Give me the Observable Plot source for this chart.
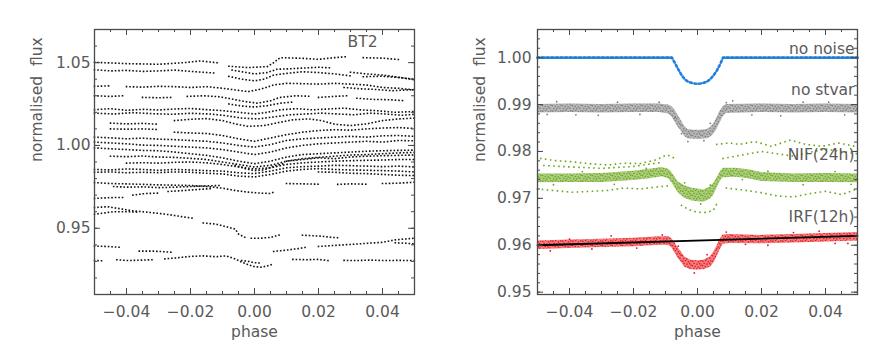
<!DOCTYPE html>
<html><head><meta charset="utf-8">
<script src="https://cdn.jsdelivr.net/npm/d3@7"></script>
<script src="https://cdn.jsdelivr.net/npm/@observablehq/plot@0.6"></script>
<style>
html,body{margin:0;padding:0;background:#fff;}
#wrap{display:flex;width:885px;height:354px;overflow:hidden;}
</style></head><body><div id="wrap"></div>
<script>
// ---------- tick values ----------
const xMajor = [-0.04, -0.02, 0, 0.02, 0.04];
const leftYMajor = [0.95, 1.00, 1.05];
const rightYMajor = [0.95, 0.96, 0.97, 0.98, 0.99, 1.00];

// ---------- left panel (BT2): dotted light-curve strands [phase, flux] (null = gap) ----------
const bt2Top = [
  [[-0.050,1.0502],[-0.040,1.0494],[-0.030,1.0490],[-0.022,1.0500],[-0.017,1.0510],[-0.011,1.0498],[-0.0095,null],[-0.008,1.0478],[-0.002,1.0470],[0.004,1.0476],[0.006,1.0500],[0.008,1.0530],[0.015,1.0526],[0.020,1.0520],[0.025,1.0530],[0.029,1.0536],[0.031,null],[0.034,1.0530],[0.040,1.0527],[0.0455,1.0518]],
  [[-0.050,1.0457],[-0.045,1.0450],[-0.040,1.0453],[-0.035,1.0447],[-0.030,1.0450],[-0.025,1.0455],[-0.020,1.0447],[-0.015,1.0440],[-0.012,1.0437],[-0.010,null],[-0.008,1.0417],[-0.004,1.0400],[0.000,1.0390],[0.003,1.0400],[0.006,1.0425],[0.010,1.0435],[0.015,1.0445],[0.020,1.0440],[0.025,1.0432],[0.030,1.0420],[0.032,null],[0.034,1.0415],[0.040,1.0418],[0.045,1.0410],[0.050,1.0400]],
  [[-0.007,1.0455],[-0.004,1.0445],[0.000,1.0432],[0.004,1.0440],[0.007,1.0460],[0.010,1.0462],[0.015,1.0467],[0.020,1.0472],[0.024,1.0468],[0.026,null],[0.030,1.0442],[0.035,1.0432],[0.040,1.0425],[0.045,1.0412],[0.050,1.0396]],
  [[-0.050,1.0357],[-0.045,1.0360],[-0.043,null],[-0.040,1.0355],[-0.035,1.0352],[-0.030,1.0357],[-0.025,1.0355],[-0.020,1.0350],[-0.015,1.0355],[-0.010,1.0345],[-0.006,1.0335],[-0.002,1.0325],[0.002,1.0340],[0.006,1.0365],[0.010,1.0375],[0.015,1.0373],[0.020,1.0370],[0.025,1.0375],[0.030,1.0370],[0.035,1.0365],[0.040,1.0350],[0.045,1.0345],[0.050,1.0335]],
  [[0.028,1.0350],[0.033,1.0342],[0.038,1.0338],[0.043,1.0330],[0.050,1.0338]],
  [[-0.050,1.0300],[-0.045,1.0296],[-0.041,1.0300],[-0.039,null],[-0.035,1.0290],[-0.030,1.0288],[-0.026,1.0290],[-0.024,null],[-0.021,1.0296],[-0.016,1.0300],[-0.011,1.0294],[-0.007,1.0280],[-0.003,1.0265],[0.001,1.0255],[0.005,1.0270],[0.008,1.0290],[0.013,1.0300],[0.017,1.0297],[0.0185,null],[0.020,1.0290],[0.025,1.0296],[0.029,1.0300],[0.0305,null],[0.032,1.0285],[0.037,1.0278],[0.042,1.0276],[0.047,1.0270]],
  [[-0.008,1.0250],[-0.004,1.0238],[0.000,1.0232],[0.004,1.0240],[0.008,1.0255],[0.012,1.0262]]
];
const bt2Mid = [
  [[-0.050,1.0216],[-0.045,1.0222],[-0.040,1.0212],[-0.035,1.0218],[-0.030,1.0214],[-0.025,1.0220],[-0.020,1.0223],[-0.015,1.0216],[-0.010,1.0210],[-0.005,1.0200],[0.000,1.0190],[0.004,1.0200],[0.008,1.0215],[0.013,1.0222],[0.018,1.0215],[0.023,1.0220],[0.028,1.0225],[0.033,1.0215],[0.038,1.0210],[0.044,1.0200],[0.050,1.0205]],
  [[-0.050,1.0195],[-0.044,1.0190],[-0.038,1.0198],[-0.032,1.0192],[-0.026,1.0188],[-0.020,1.0194],[-0.014,1.0190],[-0.009,1.0180],[-0.004,1.0165],[0.001,1.0160],[0.006,1.0172],[0.011,1.0185],[0.016,1.0190],[0.021,1.0195],[0.026,1.0190],[0.031,1.0185],[0.036,1.0195],[0.041,1.0190],[0.046,1.0182],[0.050,1.0188]],
  [[-0.045,1.0135],[-0.040,1.0130],[-0.035,1.0133],[-0.030,1.0128],[-0.027,null],[-0.025,1.0150],[-0.020,1.0158],[-0.015,1.0162],[-0.010,1.0150],[-0.006,1.0130],[-0.002,1.0115],[0.003,1.0120],[0.008,1.0140],[0.012,1.0155],[0.017,1.0160],[0.021,1.0150],[0.025,1.0128],[0.030,1.0120],[0.035,1.0130],[0.040,1.0150],[0.045,1.0160],[0.050,1.0165]],
  [[-0.045,1.0100],[-0.040,1.0098],[-0.035,1.0100],[-0.030,1.0096],[-0.028,null],[-0.025,1.0080],[-0.020,1.0075],[-0.015,1.0072],[-0.010,1.0060],[-0.005,1.0040],[0.000,1.0025],[0.005,1.0045],[0.010,1.0065],[0.015,1.0080],[0.020,1.0090],[0.025,1.0095],[0.030,1.0092],[0.035,1.0100],[0.040,1.0105],[0.045,1.0108],[0.050,1.0102]],
  [[-0.050,1.0050],[-0.045,1.0046],[-0.040,1.0040],[-0.035,1.0044],[-0.030,1.0038],[-0.025,1.0035],[-0.020,1.0030],[-0.015,1.0025],[-0.010,1.0015],[-0.005,1.0000],[0.000,0.9990],[0.005,1.0005],[0.010,1.0030],[0.015,1.0040],[0.020,1.0045],[0.025,1.0050],[0.030,1.0055],[0.035,1.0050],[0.040,1.0058],[0.045,1.0060],[0.050,1.0055]],
  [[-0.050,1.0020],[-0.045,1.0015],[-0.040,1.0010],[-0.035,1.0002],[-0.030,1.0000],[-0.025,0.9995],[-0.020,0.9990],[-0.015,0.9985],[-0.010,0.9975],[-0.005,0.9960],[0.000,0.9945],[0.005,0.9960],[0.010,0.9985],[0.015,1.0000],[0.020,1.0010],[0.025,1.0015],[0.030,1.0020],[0.035,1.0025],[0.040,1.0020],[0.045,1.0030],[0.050,1.0028]],
  [[-0.050,0.9985],[-0.045,0.9980],[-0.040,0.9975],[-0.035,0.9970],[-0.030,0.9968],[-0.025,0.9960],[-0.020,0.9950],[-0.015,0.9940],[-0.010,0.9925],[-0.005,0.9905],[0.000,0.9890],[0.005,0.9905],[0.010,0.9930],[0.015,0.9945],[0.020,0.9950],[0.025,0.9955],[0.030,0.9960],[0.035,0.9965],[0.040,0.9968],[0.045,0.9970],[0.050,0.9972]],
  [[-0.045,0.9935],[-0.040,0.9932],[-0.035,0.9936],[-0.030,0.9930],[-0.025,0.9928],[-0.020,0.9922],[-0.015,0.9915],[-0.010,0.9900],[-0.005,0.9885],[0.000,0.9870],[0.005,0.9880],[0.010,0.9905],[0.015,0.9920],[0.020,0.9928],[0.025,0.9935],[0.030,0.9942],[0.035,0.9945],[0.040,0.9950],[0.045,0.9955],[0.050,0.9958]],
  [[-0.040,0.9893],[-0.035,0.9896],[-0.030,0.9893],[-0.025,0.9898],[-0.020,0.9900],[-0.015,0.9895],[-0.010,0.9885],[-0.005,0.9870],[0.000,0.9858],[0.005,0.9865],[0.010,0.9885],[0.015,0.9895],[0.020,0.9900],[0.025,0.9905],[0.030,0.9908],[0.035,0.9910],[0.040,0.9912],[0.045,0.9915],[0.050,0.9915]],
  [[0.010,0.9905],[0.015,0.9915],[0.020,0.9925],[0.025,0.9920],[0.030,0.9930],[0.035,0.9935],[0.040,0.9938],[0.045,0.9940],[0.050,0.9942]],
  [[-0.006,0.9880],[-0.003,0.9860],[0.000,0.9848],[0.003,0.9852],[0.006,0.9875],[0.009,0.9890]]
];
const bt2Low = [
  [[-0.050,0.9855],[-0.045,0.9852],[-0.040,0.9858],[-0.035,0.9855],[-0.030,0.9850],[-0.025,0.9855],[-0.020,0.9852],[-0.015,0.9848],[-0.010,0.9845],[-0.005,0.9835],[0.000,0.9830],[0.005,0.9845],[0.010,0.9865],[0.015,0.9872],[0.020,0.9875],[0.025,0.9880],[0.030,0.9878],[0.035,0.9875],[0.040,0.9872],[0.045,0.9875],[0.050,0.9870]],
  [[-0.050,0.9838],[-0.045,0.9840],[-0.040,0.9835],[-0.035,0.9838],[-0.030,0.9836],[-0.025,0.9840],[-0.020,0.9838],[-0.015,0.9832],[-0.010,0.9828],[-0.005,0.9815],[0.000,0.9810],[0.005,0.9825],[0.010,0.9845],[0.015,0.9855],[0.020,0.9860],[0.025,0.9855],[0.030,0.9852],[0.035,0.9850],[0.040,0.9848],[0.045,0.9845],[0.050,0.9840]],
  [[0.020,0.9840],[0.025,0.9838],[0.030,0.9832],[0.035,0.9830],[0.040,0.9825],[0.045,0.9820],[0.050,0.9818]],
  [[-0.050,0.9776],[-0.045,0.9770],[-0.040,0.9768],[-0.035,0.9765],[-0.030,0.9762],[-0.025,0.9760],[-0.020,0.9758],[-0.015,0.9752],[-0.010,0.9742],[-0.006,0.9728],[-0.002,0.9718],[0.002,0.9712],[0.005,0.9710],[0.006,0.9718]],
  [[-0.044,0.9752],[-0.040,0.9748],[-0.035,0.9750],[-0.030,0.9745],[-0.025,0.9748],[-0.020,0.9752],[-0.015,0.9756],[-0.011,0.9758]],
  [[0.010,0.9770],[0.015,0.9768],[0.020,0.9766],[0.023,null],[0.026,0.9765],[0.030,0.9768],[0.035,0.9766],[0.037,null],[0.040,0.9770],[0.045,0.9772],[0.050,0.9778]],
  [[-0.050,0.9680],[-0.045,0.9685],[-0.041,0.9686],[-0.0395,null],[-0.038,0.9700],[-0.034,0.9710],[-0.030,0.9712],[-0.0285,null],[-0.027,0.9722],[-0.022,0.9728],[-0.017,0.9735],[-0.013,0.9740]]
];
const bt2Bottom = [
  [[-0.050,0.9625],[-0.046,0.9630],[-0.042,0.9618],[-0.038,0.9605],[-0.034,0.9598],[-0.030,0.9590],[-0.026,0.9580],[-0.022,0.9568],[-0.019,0.9560]],
  [[-0.050,0.9585],[-0.047,0.9592],[-0.044,0.9600],[-0.040,0.9600],[-0.036,0.9597]],
  [[-0.016,0.9532],[-0.012,0.9525],[-0.009,0.9510],[-0.006,0.9495],[-0.005,0.9465],[-0.003,0.9445]],
  [[-0.001,0.9440],[0.002,0.9440],[0.005,0.9445],[0.008,0.9460]],
  [[0.015,0.9458],[0.018,0.9455],[0.021,0.9452],[0.024,0.9445],[0.027,0.9442]],
  [[-0.050,0.9392],[-0.046,0.9390],[-0.042,0.9385],[-0.039,null],[-0.036,0.9362],[-0.032,0.9362],[-0.028,0.9358],[-0.026,0.9355]],
  [[0.006,0.9360],[0.010,0.9368],[0.014,0.9378],[0.016,0.9385],[0.018,null],[0.020,0.9390],[0.024,0.9395],[0.028,0.9400],[0.032,0.9405],[0.036,0.9410],[0.040,0.9415],[0.044,0.9430],[0.047,0.9435],[0.050,0.9440]],
  [[0.044,0.9412],[0.047,0.9410],[0.050,0.9405]],
  [[-0.050,0.9305],[-0.047,0.9303],[-0.045,null],[-0.043,0.9310],[-0.040,0.9305],[-0.036,0.9307],[-0.032,0.9310],[-0.030,null],[-0.028,0.9315],[-0.024,0.9322],[-0.020,0.9330],[-0.016,0.9333],[-0.012,0.9328],[-0.009,0.9333],[-0.006,0.9315],[-0.004,0.9295],[-0.002,0.9280],[0.000,0.9268],[0.002,0.9265],[0.004,0.9272],[0.006,0.9285]],
  [[-0.004,0.9305],[-0.002,0.9300],[0.000,0.9292],[0.002,0.9290]],
  [[0.012,0.9312],[0.016,0.9310],[0.020,0.9312],[0.023,0.9305],[0.0255,null],[0.028,0.9306],[0.032,0.9305],[0.036,0.9308],[0.040,0.9305],[0.045,0.9306],[0.050,0.9305]]
];

// ---------- right panel ----------
// no noise model [phase, flux]
const noNoise = [[-0.05,1],[-0.008,1],[-0.007,0.9988],[-0.006,0.9975],[-0.005,0.9963],[-0.004,0.9954],[-0.003,0.9949],[-0.002,0.99465],[-0.001,0.9945],[0,0.9944],[0.001,0.9945],[0.002,0.99465],[0.003,0.9949],[0.004,0.9954],[0.005,0.9962],[0.006,0.9972],[0.007,0.9985],[0.008,1],[0.05,1]];
// noisy series: [phase, lower edge, upper edge] of the dense scatter band
const noStvarBand = [[-0.05,0.9882,0.9900],[-0.04,0.9883,0.9901],[-0.03,0.9882,0.9900],[-0.02,0.9883,0.9901],[-0.012,0.9883,0.9901],[-0.009,0.9880,0.9899],[-0.008,0.9874,0.9896],[-0.007,0.9862,0.9888],[-0.006,0.9851,0.9876],[-0.005,0.9843,0.9865],[-0.004,0.9832,0.9853],[-0.003,0.9827,0.9847],[-0.001,0.9826,0.9845],[0.001,0.9826,0.9845],[0.003,0.9827,0.9847],[0.004,0.9830,0.9851],[0.005,0.9836,0.9858],[0.006,0.9846,0.9870],[0.007,0.9860,0.9885],[0.008,0.9874,0.9896],[0.009,0.9881,0.9900],[0.02,0.9883,0.9901],[0.03,0.9882,0.9900],[0.04,0.9883,0.9901],[0.05,0.9882,0.9900]];
const nifBand = [[-0.05,0.9733,0.9752],[-0.04,0.9734,0.9752],[-0.03,0.9734,0.9753],[-0.02,0.9738,0.9758],[-0.015,0.9742,0.9762],[-0.011,0.9746,0.9766],[-0.009,0.9742,0.9762],[-0.008,0.9733,0.9755],[-0.007,0.9722,0.9745],[-0.006,0.9712,0.9735],[-0.004,0.9700,0.9727],[-0.002,0.9695,0.9722],[0,0.9693,0.9720],[0.002,0.9692,0.9718],[0.004,0.9698,0.9724],[0.005,0.9706,0.9731],[0.006,0.9720,0.9742],[0.007,0.9735,0.9755],[0.008,0.9744,0.9764],[0.012,0.9745,0.9764],[0.016,0.9742,0.9761],[0.02,0.9736,0.9755],[0.03,0.9734,0.9752],[0.04,0.9734,0.9753],[0.05,0.9733,0.9752]];
const irfBand = [[-0.05,0.9591,0.9609],[-0.04,0.9593,0.9611],[-0.03,0.9595,0.9613],[-0.02,0.9597,0.9615],[-0.012,0.9600,0.9618],[-0.009,0.9600,0.9618],[-0.008,0.9594,0.9614],[-0.007,0.9583,0.9605],[-0.006,0.9572,0.9594],[-0.005,0.9563,0.9585],[-0.004,0.9553,0.9575],[-0.002,0.9548,0.9568],[0,0.9547,0.9567],[0.002,0.9548,0.9568],[0.004,0.9553,0.9575],[0.005,0.9561,0.9584],[0.006,0.9574,0.9597],[0.007,0.9589,0.9612],[0.008,0.9602,0.9622],[0.01,0.9604,0.9623],[0.02,0.9603,0.9621],[0.03,0.9605,0.9623],[0.04,0.9607,0.9625],[0.05,0.9609,0.9627]];
// fitted trend through IRF(12h)
const irfTrend = [[-0.05,0.9600],[0.05,0.9620]];
// sparse NIF(24h) outlier tracks
const nifTracks = [
  [[-0.049,0.9785],[-0.044,0.9780],[-0.039,0.9778],[-0.034,0.9774],[-0.028,0.9771],[-0.023,0.9775],[-0.018,0.9774],[-0.013,0.9782],[-0.0095,0.9793],[-0.007,0.9785]],
  [[-0.048,0.9770],[-0.040,0.9767],[-0.030,0.9764],[-0.020,0.9768],[-0.012,0.9776]],
  [[-0.050,0.9720],[-0.044,0.9716],[-0.039,0.9713],[-0.033,0.9715],[-0.028,0.9717],[-0.023,0.9722],[-0.018,0.9720],[-0.013,0.9724],[-0.0086,0.9727]],
  [[-0.005,0.9685],[-0.003,0.9677],[-0.001,0.9672],[0.001,0.9670],[0.003,0.9670],[0.005,0.9675],[0.006,0.9688]],
  [[0.006,0.9815],[0.010,0.9818],[0.013,0.9815],[0.018,0.9821],[0.023,0.9811],[0.029,0.9824],[0.034,0.9815],[0.039,0.9811],[0.044,0.9818],[0.050,0.9810]],
  [[0.008,0.9785],[0.012,0.9790],[0.016,0.9795],[0.020,0.9800],[0.025,0.9795],[0.030,0.9790],[0.035,0.9798],[0.040,0.9805],[0.045,0.9800],[0.050,0.9795]],
  [[0.009,0.9722],[0.014,0.9718],[0.020,0.9712],[0.025,0.9705],[0.030,0.9703],[0.035,0.9710],[0.040,0.9715],[0.045,0.9708],[0.050,0.9720]]
];
const greyStray = [[-0.047,0.9879],[-0.044,0.9906],[-0.038,0.9878],[-0.031,0.9877],[-0.025,0.9905],[-0.018,0.9879],[-0.012,0.9905],[-0.007,0.9872],[-0.005,0.9838],[-0.003,0.9821],[0.002,0.9823],[0.004,0.9860],[0.009,0.9904],[0.011,0.9908],[0.017,0.9878],[0.026,0.9876],[0.033,0.9905],[0.041,0.9905],[0.046,0.9878]];
const nifStray = [[-0.045,0.9729],[-0.036,0.9757],[-0.026,0.9730],[-0.016,0.9764],[-0.004,0.9733],[0.001,0.9688],[0.004,0.9728],[0.014,0.9740],[0.022,0.9758],[0.033,0.9729],[0.043,0.9757],[0.048,0.9730]];
const redStray = [[-0.046,0.9588],[-0.040,0.9613],[-0.033,0.9592],[-0.027,0.9620],[-0.019,0.9594],[-0.011,0.9622],[-0.006,0.9598],[-0.001,0.9541],[0.003,0.9580],[0.009,0.9628],[0.015,0.9602],[0.022,0.9600],[0.030,0.9627],[0.038,0.9630],[0.043,0.9604],[0.047,0.9604]];
const seriesLabels = ["no noise", "no stvar", "NIF(24h)", "IRF(12h)"];

// ---------- drawing ----------
const INK = "#4a4a4a";
const H = 354, MT = 29, MB = 60, PH = H - MT - MB;
const fmt2 = d3.format(".2f");

function common({width, ml, mr, yDomain, yMajor, yMinorStep, yLabelDx}) {
  const pw = width - ml - mr;
  const xMinor = d3.range(-10, 11).map(k => k * 0.005);
  const yMinor = d3.range(Math.ceil(yDomain[0] / yMinorStep - 1e-6), Math.floor(yDomain[1] / yMinorStep + 1e-6) + 1).map(k => k * yMinorStep);
  const sw = 1;
  return [
    Plot.ruleX(xMinor, {x: d => d, insetTop: PH - 3, stroke: INK, strokeWidth: sw}),
    Plot.ruleX(xMajor, {x: d => d, insetTop: PH - 6, stroke: INK, strokeWidth: sw}),
    Plot.ruleX(xMinor, {x: d => d, insetBottom: PH - 3, stroke: INK, strokeWidth: sw}),
    Plot.ruleX(xMajor, {x: d => d, insetBottom: PH - 6, stroke: INK, strokeWidth: sw}),
    Plot.ruleY(yMinor, {y: d => d, insetRight: pw - 3, stroke: INK, strokeWidth: sw}),
    Plot.ruleY(yMajor, {y: d => d, insetRight: pw - 6, stroke: INK, strokeWidth: sw}),
    Plot.ruleY(yMinor, {y: d => d, insetLeft: pw - 3, stroke: INK, strokeWidth: sw}),
    Plot.ruleY(yMajor, {y: d => d, insetLeft: pw - 6, stroke: INK, strokeWidth: sw}),
    Plot.frame({stroke: INK, strokeWidth: 1.3}),
    Plot.text(xMajor, {x: d => d, frameAnchor: "bottom", dy: 18, lineAnchor: "middle", text: d => fmt2(d)}),
    Plot.text(yMajor, {y: d => d, frameAnchor: "left", dx: yLabelDx, textAnchor: "end", lineAnchor: "middle", text: d => fmt2(d)}),
    Plot.text(["phase"], {frameAnchor: "bottom", dy: 38, lineAnchor: "middle", text: d => d}),
    Plot.text(["normalised  flux"], {frameAnchor: "left", dx: -57, rotate: -90, lineAnchor: "middle", text: d => d})
  ];
}

const baseStyle = {fontFamily: "DejaVu Sans", fontSize: "15.5px", color: "#5a5a5a", background: "white", overflow: "visible"};

const dotted = (data, color, gap, w) => Plot.line(data, {
  x: d => d[0], y: d => d[1], stroke: color, strokeWidth: w,
  strokeDasharray: `0.01 ${gap}`, strokeLinecap: "square"
});

// Left panel
const left = Plot.plot({
  width: 442, height: H, marginLeft: 94, marginRight: 28, marginTop: MT, marginBottom: MB,
  style: baseStyle,
  x: {domain: [-0.05, 0.05], axis: null},
  y: {domain: [0.91, 1.07], axis: null},
  marks: [
    ...[...bt2Top, ...bt2Mid, ...bt2Low, ...bt2Bottom].map(s => dotted(s, "#111", 3.5, 1.6)),
    ...common({width: 442, ml: 94, mr: 28, yDomain: [0.91, 1.07], yMajor: leftYMajor, yMinorStep: 0.01, yLabelDx: -4}),
    Plot.text(["BT2"], {frameAnchor: "top-right", dx: -37, dy: 13, textAnchor: "end", lineAnchor: "middle", text: d => d})
  ]
});

// Right panel
const BLUE = "#1f7fdc", GREY = "#7d7d7d", GREEN = "#6aa61a", RED = "#e8141a";
const right = Plot.plot({
  width: 443, height: H, marginLeft: 95, marginRight: 28, marginTop: MT, marginBottom: MB,
  style: baseStyle,
  x: {domain: [-0.05, 0.05], axis: null},
  y: {domain: [0.9495, 1.006], axis: null},
  marks: [
    Plot.areaY(noStvarBand, {x: d => d[0], y1: d => d[1], y2: d => d[2], fill: "url(#pat-grey)"}),
    Plot.dot(greyStray, {x: d => d[0], y: d => d[1], r: 0.9, fill: GREY}),
    ...nifTracks.map(s => dotted(s, GREEN, 5, 1.6)),
    Plot.areaY(nifBand, {x: d => d[0], y1: d => d[1], y2: d => d[2], fill: "url(#pat-green)"}),
    Plot.dot(nifStray, {x: d => d[0], y: d => d[1], r: 0.9, fill: GREEN}),
    Plot.areaY(irfBand, {x: d => d[0], y1: d => d[1], y2: d => d[2], fill: "url(#pat-red)"}),
    Plot.dot(redStray, {x: d => d[0], y: d => d[1], r: 0.9, fill: RED}),
    Plot.line(irfTrend, {x: d => d[0], y: d => d[1], stroke: "#000", strokeWidth: 1.8}),
    Plot.line(noNoise, {x: d => d[0], y: d => d[1], stroke: BLUE, strokeWidth: 2.6, strokeDasharray: "2 2.6"}),
    Plot.line(noNoise, {x: d => d[0], y: d => (d[1] === 1 ? d[1] : NaN), stroke: BLUE, strokeWidth: 2}),
    ...common({width: 443, ml: 95, mr: 28, yDomain: [0.9495, 1.006], yMajor: rightYMajor, yMinorStep: 0.002, yLabelDx: -6}),
    Plot.text(seriesLabels, {
      x: () => 0.05,
      y: (d, i) => [1.0019, 0.9931, 0.9793, 0.9661][i],
      dx: -3, textAnchor: "end", lineAnchor: "middle", text: d => d
    })
  ]
});

// speckled fill patterns that imitate the dense scatter of the noisy series
const ns = "http://www.w3.org/2000/svg";
const defs = document.createElementNS(ns, "defs");
const speck = [[0.8,1.2],[3.6,0.4],[6.4,1.8],[8.8,0.9],[2.1,3.4],[5.0,4.1],[7.7,3.6],[0.5,5.6],[3.3,6.5],[6.1,6.9],[9.0,5.2],[1.8,8.6],[4.7,8.9],[7.9,8.2]];
for (const [id, c] of [["pat-grey", GREY], ["pat-green", GREEN], ["pat-red", RED]]) {
  const p = document.createElementNS(ns, "pattern");
  p.setAttribute("id", id); p.setAttribute("patternUnits", "userSpaceOnUse");
  p.setAttribute("width", "10"); p.setAttribute("height", "10");
  const r = document.createElementNS(ns, "rect");
  r.setAttribute("width", "10"); r.setAttribute("height", "10"); r.setAttribute("fill", c); r.setAttribute("fill-opacity", "0.55");
  p.append(r);
  for (const [sx, sy] of speck) {
    const q = document.createElementNS(ns, "rect");
    q.setAttribute("x", sx - 0.7); q.setAttribute("y", sy - 0.7);
    q.setAttribute("width", "1.4"); q.setAttribute("height", "1.4"); q.setAttribute("fill", c);
    p.append(q);
  }
  defs.append(p);
}
right.insertBefore(defs, right.firstChild);

document.getElementById("wrap").append(left, right);
</script></body></html>
